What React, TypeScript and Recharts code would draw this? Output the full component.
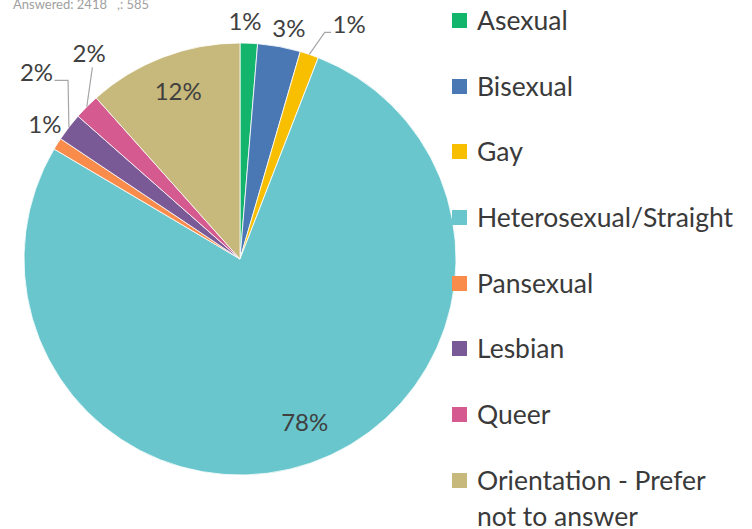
import React from 'react';
import { PieChart, Pie, Cell, Legend } from 'recharts';

const categories = [
  'Asexual',
  'Bisexual',
  'Gay',
  'Heterosexual/Straight',
  'Pansexual',
  'Lesbian',
  'Queer',
  'Orientation - Prefer not to answer',
];
const shares = [1.3, 3.2, 1.4, 77.6, 0.9, 2.1, 1.9, 11.6];
const colors = ['#13b46c', '#4a78b5', '#f8bf00', '#69c6cc', '#f98c4a', '#7a5a96', '#d45a8f', '#c7b87b'];
const headerText = 'Answered: 2418   ,: 585';

const data = categories.map((name, i) => ({ name, value: shares[i] }));

const FONT = "Lato, 'Open Sans', sans-serif";

// label layout: angle (deg clockwise from 12 o'clock) and radius factor, optional leader elbow
const labelLayout = [
  { a: 1.2, r: 1.105 },
  { a: 11.9, r: 1.097 },
  { a: 24.9, r: 1.2, elbow: { a: 20.5, r: 1.12 }, tail: 'h' },
  { a: 158.3, r: 0.81 },
  { a: -55.2, r: 1.1 },
  { a: -47.4, r: 1.28, elbow: { a: -43.9, r: 1.148 }, tail: 'h' },
  { a: -36.1, r: 1.185, elbow: { a: -37.6, r: 1.12 } },
  { a: -20.1, r: 0.833 },
];

const RAD = Math.PI / 180;
const pt = (cx: number, cy: number, theta: number, r: number) => ({
  x: cx + r * Math.sin(theta * RAD),
  y: cy - r * Math.cos(theta * RAD),
});

const renderLabel = (props: any) => {
  const { cx, cy, midAngle, outerRadius, percent, index } = props;
  const lay = labelLayout[index];
  const p = pt(cx, cy, lay.a, lay.r * outerRadius);
  const txt = `${Math.round(percent * 100)}%`;
  let line: React.ReactNode = null;
  if (lay.elbow) {
    const theta = 90 - midAngle;
    const s = pt(cx, cy, theta, outerRadius);
    const e = pt(cx, cy, lay.elbow.a, lay.elbow.r * outerRadius);
    let pts = `${s.x},${s.y} ${e.x},${e.y}`;
    if (lay.tail === 'h') {
      const dir = p.x > e.x ? 1 : -1;
      const endX = p.x - dir * 18;
      pts += ` ${endX},${e.y}`;
    }
    line = <polyline points={pts} fill="none" stroke="#a6a6a6" strokeWidth={1.2} />;
  }
  return (
    <g key={`lbl-${index}`}>
      {line}
      <text
        x={p.x}
        y={p.y}
        textAnchor="middle"
        dominantBaseline="central"
        fill="#404040"
        fontSize={24}
        fontFamily={FONT}
      >
        {txt}
      </text>
    </g>
  );
};

const renderLegend = () => {
  return (
    <div style={{ fontFamily: FONT, fontSize: 26.5, color: '#3a3a3a' }}>
      {categories.map((name, i) => (
        <div
          key={`leg-${i}`}
          style={{ display: 'flex', alignItems: 'flex-start', height: 65.7, lineHeight: '36px' }}
        >
          <div
            style={{
              width: 15,
              height: 15,
              background: colors[i],
              marginTop: 11,
              marginRight: 10,
              flex: '0 0 auto',
            }}
          />
          <div style={{ width: 264 }}>{name}</div>
        </div>
      ))}
    </div>
  );
};

export default function App() {
  return (
    <div
      style={{
        position: 'absolute',
        left: 0,
        top: 0,
        width: 752,
        height: 529,
        background: '#ffffff',
        overflow: 'hidden',
      }}
    >
      <div
        style={{
          position: 'absolute',
          left: 13,
          top: -4,
          fontFamily: FONT,
          fontSize: 13,
          color: '#a0a0a0',
          whiteSpace: 'pre',
        }}
      >
        {headerText}
      </div>
      <PieChart width={752} height={529} margin={{ top: 0, right: 0, bottom: 0, left: 0 }}>
        <Pie
          data={data}
          dataKey="value"
          nameKey="name"
          cx={240}
          cy={259}
          outerRadius={216}
          startAngle={90}
          endAngle={-270}
          stroke="#ffffff"
          strokeWidth={0.8}
          label={renderLabel}
          labelLine={false}
          isAnimationActive={false}
        >
          {data.map((d, i) => (
            <Cell key={d.name} fill={colors[i]} />
          ))}
        </Pie>
        <Legend
          layout="vertical"
          align="right"
          verticalAlign="top"
          content={renderLegend}
          wrapperStyle={{ left: 452, top: 2, width: 300 }}
        />
      </PieChart>
    </div>
  );
}
